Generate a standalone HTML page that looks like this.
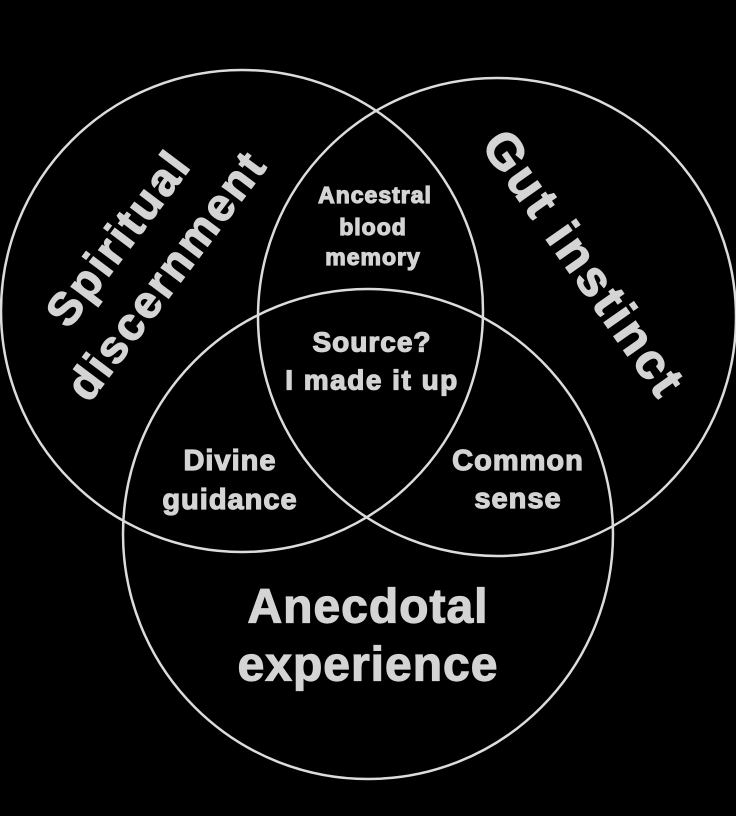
<!DOCTYPE html>
<html><head><meta charset="utf-8"><style>
html,body{margin:0;padding:0;background:#000;}
svg{display:block}
text{font-family:"Liberation Sans",Arial,sans-serif;font-weight:bold;fill:#d4d4d4;stroke:#d4d4d4;stroke-width:1.2;text-anchor:middle;dominant-baseline:central}
</style></head><body>
<svg width="736" height="816" viewBox="0 0 736 816">
<rect width="736" height="816" fill="#000"/>
<g fill="none" stroke="#dcdcdc" stroke-width="2.5">
<circle cx="242" cy="311" r="241"/>
<circle cx="497" cy="317" r="239"/>
<circle cx="368" cy="534" r="245"/>
</g>
<text x="118" y="238" font-size="46" letter-spacing="2.5" transform="rotate(-53 118 238)">Spiritual</text>
<text x="166" y="275" font-size="46" letter-spacing="2.3" transform="rotate(-53 166 275)">discernment</text>
<text x="584" y="264" font-size="50" letter-spacing="3" transform="rotate(55 584 264)">Gut instinct</text>
<text x="375" y="195" font-size="23" letter-spacing="1">Ancestral</text>
<text x="373" y="227" font-size="23" letter-spacing="1">blood</text>
<text x="373" y="257" font-size="23" letter-spacing="1">memory</text>
<text x="372" y="342" font-size="28" letter-spacing="1">Source?</text>
<text x="372" y="380" font-size="28" letter-spacing="1.5">I made it up</text>
<text x="230" y="461" font-size="29" letter-spacing="1">Divine</text>
<text x="230" y="500" font-size="29" letter-spacing="1">guidance</text>
<text x="518" y="461" font-size="29" letter-spacing="1">Common</text>
<text x="518" y="499" font-size="29" letter-spacing="1">sense</text>
<text x="368" y="607" font-size="48" letter-spacing="1">Anecdotal</text>
<text x="368" y="665" font-size="48" letter-spacing="1">experience</text>
</svg>
</body></html>
